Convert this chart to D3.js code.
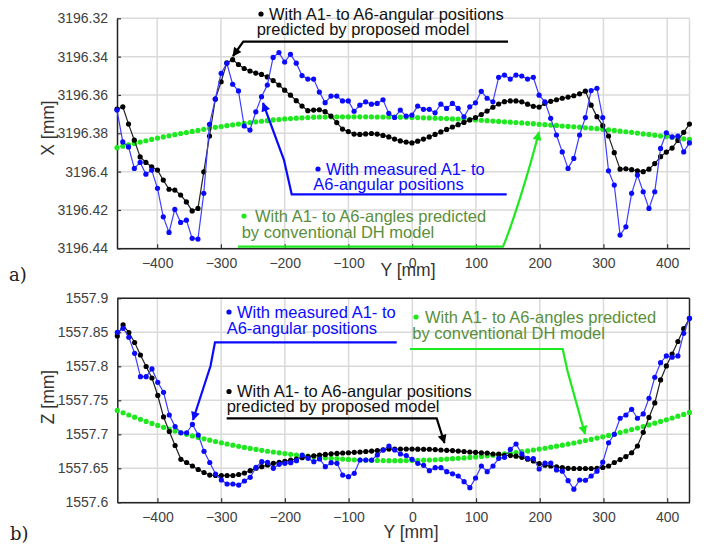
<!DOCTYPE html>
<html>
<head>
<meta charset="utf-8">
<script src="https://cdn.jsdelivr.net/npm/d3@7"></script>
<style>
  body { margin: 0; background: #fff; }
  svg { display: block; }
  text { font-family: "Liberation Sans", Arial, sans-serif; }
</style>
</head>
<body>
<svg id="chart" width="728" height="549"></svg>
<script>
// sampled Y positions [mm]
const yPos = [-463.0, -453.9, -444.9, -435.8, -426.7, -417.7, -408.6, -399.5, -390.4, -381.4,
  -372.3, -363.2, -354.2, -345.1, -336.0, -326.9, -317.9, -308.8, -299.7, -290.7,
  -281.6, -272.5, -263.5, -254.4, -245.3, -236.3, -227.2, -218.1, -209.0, -200.0,
  -190.9, -181.8, -172.8, -163.7, -154.6, -145.6, -136.5, -127.4, -118.3, -109.3,
  -100.2, -91.1, -82.1, -73.0, -63.9, -54.9, -45.8, -36.7, -27.6, -18.6,
  -9.5, -0.4, 8.6, 17.7, 26.8, 35.9, 44.9, 54.0, 63.1, 72.1,
  81.2, 90.3, 99.3, 108.4, 117.5, 126.6, 135.6, 144.7, 153.8, 162.8,
  171.9, 181.0, 190.0, 199.1, 208.2, 217.3, 226.3, 235.4, 244.5, 253.5,
  262.6, 271.7, 280.7, 289.8, 298.9, 308.0, 317.0, 326.1, 335.2, 344.2,
  353.3, 362.4, 371.4, 380.5, 389.6, 398.7, 407.7, 416.8, 425.9, 434.9];

const xTicks = [-400, -300, -200, -100, 0, 100, 200, 300, 400];
const xTicksTop = [3196.32, 3196.34, 3196.36, 3196.38, 3196.40, 3196.42, 3196.44];
const zTicks = [1557.6, 1557.65, 1557.7, 1557.75, 1557.8, 1557.85, 1557.9];

// a) X [mm]
const xMeasured = [3196.3679, 3196.3845, 3196.3871, 3196.3983, 3196.3952, 3196.4013, 3196.3992, 3196.4087, 3196.4236, 3196.4317,
  3196.4197, 3196.4265, 3196.4253, 3196.4348, 3196.4352, 3196.4113, 3196.3753, 3196.3620, 3196.3487, 3196.3435,
  3196.3544, 3196.3579, 3196.3762, 3196.3783, 3196.3688, 3196.3609, 3196.3548, 3196.3404, 3196.3379, 3196.3428,
  3196.3388, 3196.3434, 3196.3499, 3196.3517, 3196.3517, 3196.3585, 3196.3640, 3196.3606, 3196.3606, 3196.3631,
  3196.3631, 3196.3685, 3196.3653, 3196.3636, 3196.3648, 3196.3644, 3196.3625, 3196.3696, 3196.3717, 3196.3679,
  3196.3710, 3196.3705, 3196.3658, 3196.3675, 3196.3675, 3196.3693, 3196.3648, 3196.3670, 3196.3644, 3196.3670,
  3196.3714, 3196.3662, 3196.3641, 3196.3581, 3196.3617, 3196.3636, 3196.3508, 3196.3496, 3196.3517, 3196.3496,
  3196.3501, 3196.3517, 3196.3508, 3196.3601, 3196.3636, 3196.3722, 3196.3809, 3196.3897, 3196.3983, 3196.3931,
  3196.3809, 3196.3718, 3196.3577, 3196.3565, 3196.3718, 3196.3996, 3196.4070, 3196.4331, 3196.4288, 3196.4113,
  3196.4018, 3196.4105, 3196.4192, 3196.4105, 3196.3879, 3196.3797, 3196.3819, 3196.3814, 3196.3897, 3196.3850];

const xProposed = [3196.3674, 3196.3662, 3196.3752, 3196.3836, 3196.3923, 3196.3952, 3196.3975, 3196.3992, 3196.4044, 3196.4092,
  3196.4096, 3196.4122, 3196.4158, 3196.4205, 3196.4192, 3196.4001, 3196.3814, 3196.3622, 3196.3531, 3196.3432,
  3196.3416, 3196.3441, 3196.3462, 3196.3475, 3196.3486, 3196.3493, 3196.3506, 3196.3525, 3196.3548, 3196.3575,
  3196.3601, 3196.3630, 3196.3658, 3196.3682, 3196.3679, 3196.3677, 3196.3687, 3196.3710, 3196.3744, 3196.3778,
  3196.3791, 3196.3804, 3196.3806, 3196.3803, 3196.3801, 3196.3804, 3196.3811, 3196.3819, 3196.3830, 3196.3840,
  3196.3846, 3196.3850, 3196.3841, 3196.3830, 3196.3819, 3196.3806, 3196.3793, 3196.3780, 3196.3767, 3196.3755,
  3196.3743, 3196.3730, 3196.3718, 3196.3702, 3196.3684, 3196.3664, 3196.3647, 3196.3635, 3196.3631, 3196.3631,
  3196.3636, 3196.3648, 3196.3659, 3196.3663, 3196.3644, 3196.3633, 3196.3625, 3196.3617, 3196.3611, 3196.3604,
  3196.3594, 3196.3580, 3196.3653, 3196.3713, 3196.3760, 3196.3814, 3196.3901, 3196.3987, 3196.3985, 3196.3990,
  3196.3996, 3196.4000, 3196.3987, 3196.3958, 3196.3922, 3196.3898, 3196.3877, 3196.3837, 3196.3795, 3196.3752];

const xConventional = [3196.3875, 3196.3867, 3196.3860, 3196.3853, 3196.3846, 3196.3839, 3196.3832, 3196.3825, 3196.3819, 3196.3813,
  3196.3807, 3196.3801, 3196.3796, 3196.3790, 3196.3785, 3196.3779, 3196.3774, 3196.3769, 3196.3765, 3196.3760,
  3196.3756, 3196.3752, 3196.3748, 3196.3744, 3196.3740, 3196.3737, 3196.3734, 3196.3730, 3196.3728, 3196.3725,
  3196.3723, 3196.3721, 3196.3719, 3196.3718, 3196.3716, 3196.3715, 3196.3715, 3196.3714, 3196.3714, 3196.3714,
  3196.3714, 3196.3714, 3196.3714, 3196.3714, 3196.3714, 3196.3715, 3196.3715, 3196.3715, 3196.3715, 3196.3716,
  3196.3716, 3196.3717, 3196.3718, 3196.3719, 3196.3720, 3196.3721, 3196.3722, 3196.3723, 3196.3725, 3196.3726,
  3196.3727, 3196.3729, 3196.3730, 3196.3732, 3196.3734, 3196.3736, 3196.3738, 3196.3740, 3196.3742, 3196.3744,
  3196.3746, 3196.3748, 3196.3750, 3196.3753, 3196.3755, 3196.3757, 3196.3759, 3196.3762, 3196.3764, 3196.3766,
  3196.3768, 3196.3771, 3196.3773, 3196.3776, 3196.3779, 3196.3782, 3196.3785, 3196.3789, 3196.3792, 3196.3795,
  3196.3799, 3196.3803, 3196.3806, 3196.3810, 3196.3814, 3196.3817, 3196.3821, 3196.3825, 3196.3829, 3196.3832];

// b) Z [mm]
const zMeasured = [1557.8500, 1557.8559, 1557.8427, 1557.8191, 1557.7848, 1557.7848, 1557.7961, 1557.7765, 1557.7618, 1557.7284,
  1557.7113, 1557.7023, 1557.7023, 1557.7145, 1557.6989, 1557.6750, 1557.6585, 1557.6416, 1557.6328, 1557.6269,
  1557.6269, 1557.6254, 1557.6313, 1557.6368, 1557.6515, 1557.6597, 1557.6588, 1557.6500, 1557.6559, 1557.6573,
  1557.6582, 1557.6612, 1557.6695, 1557.6647, 1557.6597, 1557.6637, 1557.6524, 1557.6582, 1557.6573, 1557.6401,
  1557.6377, 1557.6426, 1557.6622, 1557.6622, 1557.6622, 1557.6695, 1557.6769, 1557.6828, 1557.6769, 1557.6710,
  1557.6688, 1557.6632, 1557.6573, 1557.6544, 1557.6465, 1557.6509, 1557.6509, 1557.6450, 1557.6419, 1557.6387,
  1557.6303, 1557.6215, 1557.6357, 1557.6534, 1557.6450, 1557.6534, 1557.6647, 1557.6662, 1557.6779, 1557.6857,
  1557.6710, 1557.6647, 1557.6644, 1557.6490, 1557.6578, 1557.6578, 1557.6475, 1557.6457, 1557.6318, 1557.6193,
  1557.6328, 1557.6324, 1557.6387, 1557.6457, 1557.6590, 1557.6876, 1557.7001, 1557.7236, 1557.7284, 1557.7368,
  1557.7236, 1557.7299, 1557.7530, 1557.7839, 1557.8053, 1557.8152, 1557.8133, 1557.8152, 1557.8485, 1557.8706];

const zProposed = [1557.8446, 1557.8608, 1557.8497, 1557.8350, 1557.8166, 1557.7997, 1557.7828, 1557.7571, 1557.7255, 1557.7041,
  1557.6835, 1557.6632, 1557.6585, 1557.6534, 1557.6482, 1557.6438, 1557.6401, 1557.6394, 1557.6394, 1557.6394,
  1557.6394, 1557.6409, 1557.6431, 1557.6465, 1557.6501, 1557.6524, 1557.6549, 1557.6573, 1557.6588, 1557.6603,
  1557.6622, 1557.6637, 1557.6656, 1557.6671, 1557.6684, 1557.6695, 1557.6704, 1557.6713, 1557.6719, 1557.6725,
  1557.6729, 1557.6735, 1557.6740, 1557.6747, 1557.6754, 1557.6762, 1557.6772, 1557.6782, 1557.6784, 1557.6784,
  1557.6784, 1557.6784, 1557.6781, 1557.6780, 1557.6780, 1557.6775, 1557.6769, 1557.6765, 1557.6760, 1557.6754,
  1557.6747, 1557.6740, 1557.6735, 1557.6728, 1557.6725, 1557.6710, 1557.6707, 1557.6691, 1557.6688, 1557.6678,
  1557.6662, 1557.6634, 1557.6607, 1557.6570, 1557.6545, 1557.6534, 1557.6522, 1557.6509, 1557.6500, 1557.6497,
  1557.6497, 1557.6497, 1557.6497, 1557.6500, 1557.6512, 1557.6534, 1557.6585, 1557.6629, 1557.6673, 1557.6729,
  1557.6828, 1557.7029, 1557.7248, 1557.7461, 1557.7799, 1557.8005, 1557.8181, 1557.8365, 1557.8553, 1557.8706];

const zConventional = [1557.7351, 1557.7317, 1557.7284, 1557.7252, 1557.7220, 1557.7189, 1557.7160, 1557.7130, 1557.7102, 1557.7075,
  1557.7048, 1557.7023, 1557.7000, 1557.6976, 1557.6954, 1557.6934, 1557.6913, 1557.6894, 1557.6875, 1557.6857,
  1557.6840, 1557.6823, 1557.6807, 1557.6792, 1557.6778, 1557.6765, 1557.6751, 1557.6740, 1557.6728, 1557.6716,
  1557.6706, 1557.6695, 1557.6687, 1557.6678, 1557.6669, 1557.6662, 1557.6654, 1557.6647, 1557.6641, 1557.6635,
  1557.6631, 1557.6626, 1557.6622, 1557.6619, 1557.6616, 1557.6615, 1557.6613, 1557.6612, 1557.6612, 1557.6612,
  1557.6613, 1557.6615, 1557.6616, 1557.6619, 1557.6622, 1557.6626, 1557.6631, 1557.6635, 1557.6641, 1557.6647,
  1557.6653, 1557.6660, 1557.6668, 1557.6675, 1557.6684, 1557.6693, 1557.6701, 1557.6712, 1557.6722, 1557.6732,
  1557.6744, 1557.6756, 1557.6769, 1557.6782, 1557.6795, 1557.6810, 1557.6825, 1557.6840, 1557.6856, 1557.6872,
  1557.6890, 1557.6907, 1557.6925, 1557.6944, 1557.6963, 1557.6984, 1557.7004, 1557.7025, 1557.7047, 1557.7069,
  1557.7091, 1557.7114, 1557.7138, 1557.7163, 1557.7189, 1557.7214, 1557.7240, 1557.7266, 1557.7292, 1557.7321];

const BLUE = '#0a0aff';
const GREEN = '#1ee81e';
const OLIVE = '#5a8f3a';
const TICK_COLOR = '#404040';

const svg = d3.select('#chart');

// arrow heads
const defs = svg.append('defs');
[['blk', '#000'], ['blu', BLUE], ['grn', GREEN]].forEach(([id, c]) => {
  defs.append('marker')
    .attr('id', 'arr-' + id)
    .attr('viewBox', '0 0 10 10')
    .attr('refX', 9).attr('refY', 5)
    .attr('markerUnits', 'userSpaceOnUse')
    .attr('markerWidth', 11).attr('markerHeight', 9)
    .attr('orient', 'auto')
    .append('path')
    .attr('d', 'M0,0 L10,5 L0,10 z')
    .attr('fill', c);
});

function makePanel(p) {
  const x = d3.scaleLinear().domain([-463, 435]).range([p.left, p.right]);
  const y = d3.scaleLinear().domain(p.domain).range([p.bottom, p.top]);
  const g = svg.append('g');

  // grid
  g.append('g').selectAll('line')
    .data(p.ticks)
    .join('line')
    .attr('x1', p.left).attr('x2', p.right)
    .attr('y1', d => y(d)).attr('y2', d => y(d))
    .attr('stroke', '#dadada').attr('stroke-width', 1.5);
  g.append('g').selectAll('line')
    .data(xTicks)
    .join('line')
    .attr('x1', d => x(d)).attr('x2', d => x(d))
    .attr('y1', p.top).attr('y2', p.bottom)
    .attr('stroke', '#dadada').attr('stroke-width', 1.5);
  // right edge
  g.append('line')
    .attr('x1', p.right).attr('x2', p.right)
    .attr('y1', p.top).attr('y2', p.bottom)
    .attr('stroke', p.box ? '#222' : '#dadada').attr('stroke-width', 1.5);
  if (p.box) {
    g.append('line')
      .attr('x1', p.left).attr('x2', p.right)
      .attr('y1', p.top).attr('y2', p.top)
      .attr('stroke', '#222').attr('stroke-width', 1.5);
  }

  // axes
  const fmt = d => String(+d.toFixed(2));
  const ax = g.append('g')
    .attr('transform', `translate(0,${p.bottom})`)
    .call(d3.axisBottom(x).tickValues(xTicks).tickSize(-4).tickSizeOuter(0).tickPadding(10));
  const ay = g.append('g')
    .attr('transform', `translate(${p.left},0)`)
    .call(d3.axisLeft(y).tickValues(p.ticks).tickFormat(fmt).tickSize(-4).tickSizeOuter(0).tickPadding(9));
  [ax, ay].forEach(a => {
    a.select('.domain').attr('stroke', '#222').attr('stroke-width', 1.5);
    a.selectAll('.tick line').attr('stroke', '#333').attr('stroke-width', 1.2);
    a.selectAll('.tick text')
      .attr('fill', TICK_COLOR)
      .style('font-size', '14px')
      .style('font-family', '"Liberation Sans", Arial, sans-serif');
  });

  // series
  const line = d3.line().x((d, i) => x(yPos[i])).y(d => y(d));
  function series(vals, dotColor, lineColor, lw) {
    if (lineColor) {
      g.append('path')
        .attr('d', line(vals))
        .attr('fill', 'none')
        .attr('stroke', lineColor)
        .attr('stroke-width', lw);
    }
    g.append('g').selectAll('circle')
      .data(vals)
      .join('circle')
      .attr('cx', (d, i) => x(yPos[i]))
      .attr('cy', d => y(d))
      .attr('r', 2.6)
      .attr('fill', dotColor);
  }
  series(p.conventional, GREEN, null, 0);
  series(p.proposed, '#000', '#222', 1.2);
  series(p.measured, BLUE, '#3d3dff', 1.2);

  // axis titles
  svg.append('text')
    .attr('transform', `translate(${p.titleX},${p.titleYc}) rotate(-90)`)
    .attr('text-anchor', 'middle')
    .attr('dy', '0.35em')
    .attr('fill', '#333')
    .style('font-size', '17.5px')
    .text(p.title);
  svg.append('text')
    .attr('x', p.yTitleX).attr('y', p.yTitleBase)
    .attr('text-anchor', 'middle')
    .attr('fill', '#333')
    .style('font-size', '17.5px')
    .text('Y [mm]');
  return { x, y };
}

makePanel({
  left: 117, right: 689.5, top: 18.3, bottom: 248.3,
  domain: [3196.44, 3196.32], ticks: xTicksTop,
  measured: xMeasured, proposed: xProposed, conventional: xConventional,
  title: 'X [mm]', titleX: 48, titleYc: 128, yTitleX: 408, yTitleBase: 276, box: false
});
makePanel({
  left: 117.3, right: 689.5, top: 298.3, bottom: 502.3,
  domain: [1557.6, 1557.9], ticks: zTicks,
  measured: zMeasured, proposed: zProposed, conventional: zConventional,
  title: 'Z [mm]', titleX: 48, titleYc: 397, yTitleX: 411, yTitleBase: 538, box: true
});

// annotations
function note(lines, color, bullet, bulletColor) {
  const g = svg.append('g');
  g.append('circle').attr('cx', bullet[0]).attr('cy', bullet[1]).attr('r', 2.6).attr('fill', bulletColor);
  lines.forEach(l => {
    g.append('text')
      .attr('x', l[1]).attr('y', l[2])
      .attr('fill', color)
      .style('font-size', '16.5px')
      .text(l[0]);
  });
}
function leader(d, color, id) {
  svg.append('path')
    .attr('d', d)
    .attr('fill', 'none')
    .attr('stroke', color)
    .attr('stroke-width', 2.2)
    .attr('marker-end', `url(#arr-${id})`);
}

// panel a)
note([['With A1- to A6-angular positions', 269, 19.5], ['predicted by proposed model', 256.7, 35]], '#111', [261, 14], '#000');
leader('M508,41.7 H243.3 L233,56', '#000', 'blk');
note([['With measured A1- to', 326, 174.5], ['A6-angular positions', 313.3, 189.5]], BLUE, [318, 169], BLUE);
leader('M506.7,194.3 H291.7 L284,160 L263,103', BLUE, 'blu');
note([['With A1- to A6-angles predicted', 255, 221.7], ['by conventional DH model', 241.7, 237.5]], OLIVE, [244, 216], GREEN);
leader('M238,246.7 H503 C512,225 528,175 539,132', GREEN, 'grn');

// panel b)
note([['With measured A1- to', 237, 317.5], ['A6-angular positions', 226.7, 333.5]], BLUE, [229, 312], BLUE);
leader('M396.7,342.3 H215 L210.5,366 L193,420', BLUE, 'blu');
note([['With A1- to A6-angles predicted', 425, 322.5], ['by conventional DH model', 412.3, 338.5]], OLIVE, [416, 317], GREEN);
leader('M410,349 H562.7 L567.5,371 L585,434', GREEN, 'grn');
note([['With A1- to A6-angular positions', 237, 397], ['predicted by proposed model', 226.7, 412.3]], '#111', [229, 391.5], '#000');
leader('M226.7,418.3 H436.7 L444.5,443', '#000', 'blk');

// panel labels
[['a)', 9, 281], ['b)', 10, 540]].forEach(([t, px, py]) => {
  svg.append('text')
    .attr('x', px).attr('y', py)
    .attr('fill', '#222')
    .style('font-family', '"DejaVu Serif", "Liberation Serif", serif')
    .style('font-size', '18px')
    .text(t);
});
</script>
</body>
</html>
